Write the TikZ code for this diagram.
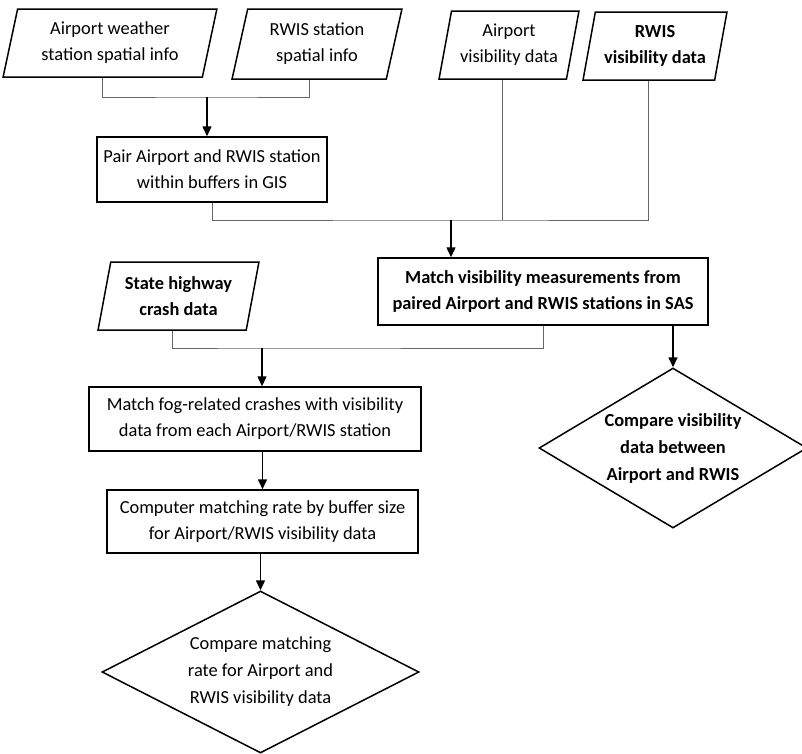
\documentclass[tikz,border=0pt]{standalone}
\usepackage{fontspec}
\setmainfont{Carlito}
\usetikzlibrary{shapes.geometric, arrows.meta, positioning, calc}

\begin{document}
\begin{tikzpicture}[x=1pt, y=-1pt, font=\fontsize{18.4}{26}\selectfont]
    \tikzstyle{datain} = [trapezium, trapezium left angle=76, trapezium right angle=104, trapezium stretches=true,
      draw, line width=1.5pt, align=center, inner sep=1pt, minimum height=68pt]
    \tikzstyle{process} = [rectangle, draw, line width=1.5pt, align=center, inner sep=2pt]
    \tikzstyle{decide} = [diamond, draw, line width=1.5pt, align=center, inner sep=0pt, font=\fontsize{18.4}{27}\selectfont]
    \tikzstyle{heavy} = [font=\fontsize{18.4}{26}\selectfont\bfseries]
    \tikzstyle{joint} = [draw=black!60, line width=1pt]
    \tikzstyle{flow} = [-{Triangle[length=10pt,width=9pt]}, line width=1.5pt]

    \useasboundingbox (0,0) rectangle (802,753);

    % input data
    \node (awx) [datain, minimum width=214pt] at (110,43) {Airport weather\\station spatial info};
    \node (rws) [datain, minimum width=170pt, minimum height=70pt] at (317,44) {RWIS station\\spatial info};
    \node (avis) [datain, minimum width=140pt] at (509,45) {Airport\\visibility data};
    \node (rvis) [datain, heavy, minimum width=144pt] at (655,46) {RWIS\\visibility data};
    \node (crash) [datain, heavy, minimum width=161pt] at (178.5,296) {State highway\\crash data};

    % processing steps
    \node (pair) [process, minimum width=230pt, minimum height=65pt] at (212,169.5)
      {Pair Airport and RWIS station\\within buffers in GIS};
    \node (mvs) [process, heavy, minimum width=330pt, minimum height=67pt] at (543,291.5)
      {Match visibility measurements from\\paired Airport and RWIS stations in SAS};
    \node (fog) [process, minimum width=332pt, minimum height=64pt] at (255,419)
      {Match fog-related crashes with visibility\\data from each Airport/RWIS station};
    \node (rate) [process, minimum width=311pt, minimum height=63pt] at (262.5,521.5)
      {Computer matching rate by buffer size\\for Airport/RWIS visibility data};

    % comparisons
    \node (cmpv) [decide, aspect=1.675, minimum width=268pt, minimum height=160pt,
      font=\fontsize{18.4}{27}\selectfont\bfseries] at (673,448)
      {Compare visibility\\data between\\Airport and RWIS};
    \node (cmpm) [decide, aspect=1.96, minimum width=317pt, minimum height=162pt] at (260.5,672)
      {Compare matching\\rate for Airport and\\RWIS visibility data};

    % joints
    \coordinate (j1) at (207,97);
    \coordinate (j2) at (451,220);
    \coordinate (j3) at (262,348);
    \coordinate (avisb) at ($(avis.bottom left corner)!.5!(avis.bottom right corner)$);

    \draw [joint] ($(awx.bottom left corner)!.5!(awx.bottom right corner)$) |- (j1)
      -| ($(rws.bottom left corner)!.5!(rws.bottom right corner)$);
    \draw [flow] (j1) -- (j1 |- pair.north);

    \draw [joint] (pair.south) |- (j2) -| ($(rvis.bottom left corner)!.5!(rvis.bottom right corner)$);
    \draw [joint] (avisb) -- (avisb |- j2);
    \draw [flow] (j2) -- (j2 |- mvs.north);

    \draw [joint] ($(crash.bottom left corner)!.5!(crash.bottom right corner)$) |- (j3) -| (mvs.south);
    \draw [flow] (j3) -- (j3 |- fog.north);

    \draw [flow] (cmpv.north |- mvs.south) -- (cmpv.north);
    \draw [flow] (rate.north |- fog.south) -- (rate.north);
    \draw [flow] (cmpm.north |- rate.south) -- (cmpm.north);
\end{tikzpicture}
\end{document}
